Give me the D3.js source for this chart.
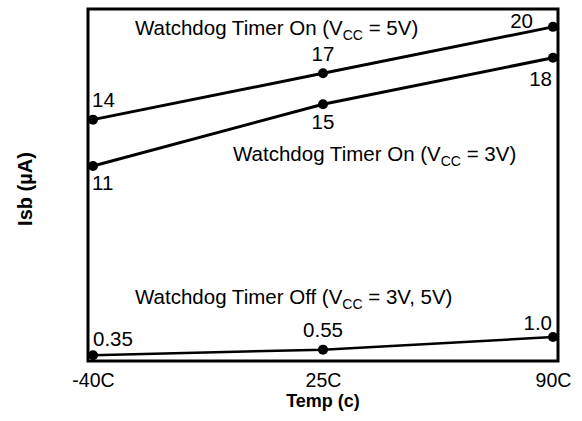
<!DOCTYPE html>
<html>
<head>
<meta charset="utf-8">
<script src="https://cdn.jsdelivr.net/npm/d3@7"></script>
<style>
  body { margin: 0; background: #fff; }
  svg { display: block; font-family: "Liberation Sans", Arial, sans-serif; }
</style>
</head>
<body>
<svg></svg>
<script>
// data
let temps = [-40, 25, 90];
let tempLabels = ["-40C", "25C", "90C"];
let on5V = [14, 17, 20];
let on3V = [11, 15, 18];
let off = [0.35, 0.55, 1.0];
let offLabels = ["0.35", "0.55", "1.0"];

let width = 582;
let height = 421;
let fs = 20.5;
let box = { left: 88, right: 558, top: 9, bottom: 361 };
let svg = d3.select("svg").attr("width", width).attr("height", height);

let xScale = d3.scaleLinear().domain([-40, 90]).range([93, 553]);
// broken y axis: low "off" currents get their own band at the bottom
let yScale = d3
  .scaleLinear()
  .domain([0, 1.2, 10, 21])
  .range([365, 331.5, 181.5, 11.4]);

// frame
svg
  .append("rect")
  .attr("x", box.left)
  .attr("y", box.top)
  .attr("width", box.right - box.left)
  .attr("height", box.bottom - box.top)
  .attr("fill", "none")
  .attr("stroke", "#000")
  .attr("stroke-width", 3);

// x axis labels only (no ticks in the original)
let xAxis = d3.axisBottom(xScale).tickValues(temps).tickSize(0).tickPadding(0)
  .tickFormat((d, i) => tempLabels[i]);
let gx = svg.append("g").attr("transform", `translate(0, ${box.bottom})`).call(xAxis);
gx.select(".domain").remove();
gx.selectAll("text")
  .attr("dy", null)
  .attr("y", 26)
  .attr("font-size", 19.5)
  .attr("font-family", "Liberation Sans, Arial, sans-serif")
  .attr("fill", "#000");

svg.append("text")
  .attr("x", xScale(25))
  .attr("y", 407)
  .attr("text-anchor", "middle")
  .attr("font-size", 18)
  .attr("font-weight", "bold")
  .text("Temp (c)");

svg.append("text")
  .attr("transform", "translate(32, 189) rotate(-90)")
  .attr("text-anchor", "middle")
  .attr("font-size", 20)
  .attr("font-weight", "bold")
  .text("Isb (µA)");

let line = d3.line().x((d, i) => xScale(temps[i])).y((d) => yScale(d));

// label placement per point: [anchor, dx, dy]
let series = [
  { values: on5V, labels: on5V.map(String), width: 3,
    place: [["start", -1, -13], ["middle", 0, -12], ["end", -20, 1]] },
  { values: on3V, labels: on3V.map(String), width: 3,
    place: [["start", -1, 24], ["middle", 0, 25], ["end", -1, 28]] },
  { values: off, labels: offLabels, width: 2.5,
    place: [["start", 0, -9], ["middle", 0, -13], ["end", -1, -7]] },
];

series.forEach((s) => {
  svg.append("path")
    .attr("d", line(s.values))
    .attr("fill", "none")
    .attr("stroke", "#000")
    .attr("stroke-width", s.width);

  svg.selectAll(null)
    .data(s.values)
    .enter()
    .append("circle")
    .attr("cx", (d, i) => xScale(temps[i]))
    .attr("cy", (d) => yScale(d))
    .attr("r", 5)
    .attr("fill", "#000");

  svg.selectAll(null)
    .data(s.values)
    .enter()
    .append("text")
    .attr("x", (d, i) => xScale(temps[i]) + s.place[i][1])
    .attr("y", (d, i) => yScale(d) + s.place[i][2])
    .attr("text-anchor", (d, i) => s.place[i][0])
    .attr("font-size", fs)
    .text((d, i) => s.labels[i]);
});

// series titles with V_CC subscript
let titles = [
  { x: 135, y: 35, pre: "Watchdog Timer On (V", post: " = 5V)" },
  { x: 233, y: 161, pre: "Watchdog Timer On (V", post: " = 3V)" },
  { x: 135, y: 304, pre: "Watchdog Timer Off (V", post: " = 3V, 5V)" },
];
titles.forEach((t) => {
  let txt = svg.append("text").attr("x", t.x).attr("y", t.y).attr("font-size", fs);
  txt.append("tspan").text(t.pre);
  txt.append("tspan").attr("font-size", 14).attr("dy", 5).text("CC");
  txt.append("tspan").attr("dy", -5).text(t.post);
});
</script>
</body>
</html>
